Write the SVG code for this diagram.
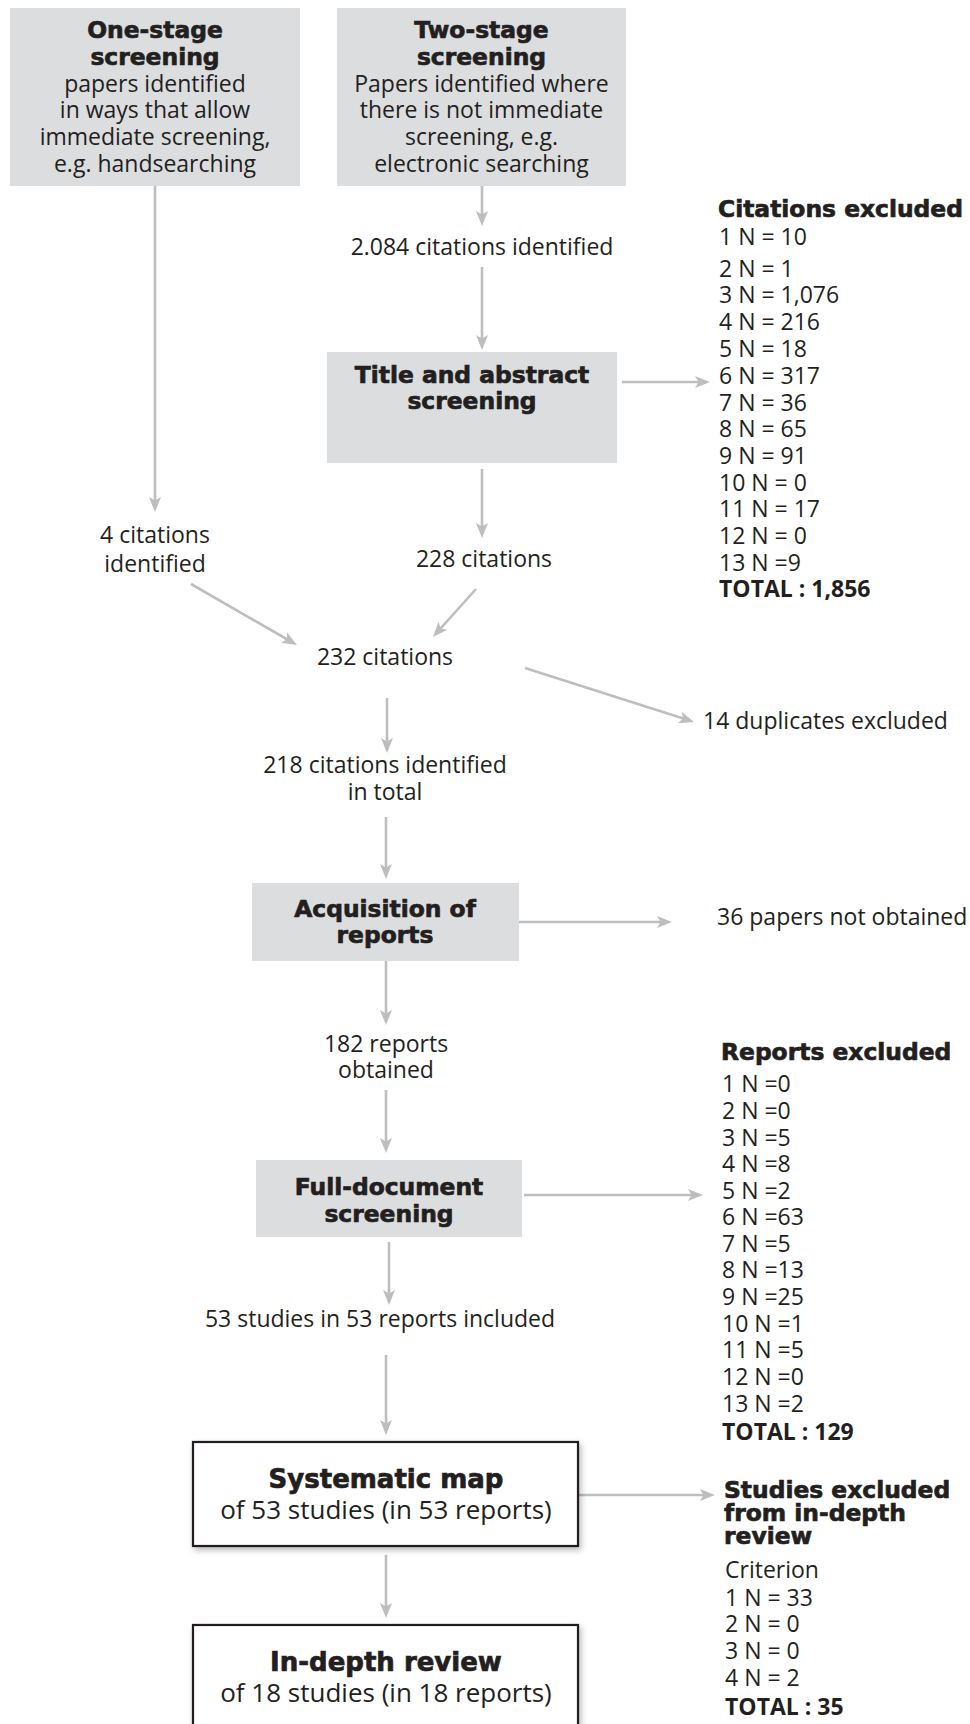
<svg xmlns="http://www.w3.org/2000/svg" width="970" height="1724" viewBox="0 0 970 1724">
<style>
.gb{fill:#dcdddf}
.wb{fill:#ffffff;stroke:#231f20;stroke-width:2.2;filter:url(#sh)}
.h{font-family:"DejaVu Sans","Liberation Sans",sans-serif;font-weight:bold;font-size:23.4px;fill:#231f20;stroke:#231f20;stroke-width:0.7px}
.h2{font-family:"DejaVu Sans","Liberation Sans",sans-serif;font-weight:bold;font-size:26px;fill:#231f20;stroke:#231f20;stroke-width:0.7px}
.t{font-family:"Open Sans","Liberation Sans",sans-serif;font-size:23px;fill:#231f20}
.t2{font-family:"Open Sans","Liberation Sans",sans-serif;font-size:26px;fill:#231f20}
.tb{font-family:"Open Sans","Liberation Sans",sans-serif;font-size:23px;font-weight:bold;fill:#231f20}
.c{text-anchor:middle}
.ln{fill:none;stroke:#bcbec0;stroke-width:2.6;marker-end:url(#ah)}
</style>
<defs>
<marker id="ah" viewBox="0 0 15 12" refX="7" refY="6" markerWidth="15" markerHeight="12" markerUnits="userSpaceOnUse" orient="auto">
<path d="M0,0 L15,6 L0,12 L3.5,6 z" fill="#bcbec0"/>
</marker>
<filter id="sh" x="-10%" y="-20%" width="125%" height="150%">
<feDropShadow dx="2" dy="3" stdDeviation="3" flood-color="#000" flood-opacity="0.28"/>
</filter>
</defs>
<rect width="970" height="1724" fill="#ffffff"/>

<g id="connectors">
<path class="ln" d="M155,186 V504"/>
<path class="ln" d="M482,186 V218"/>
<path class="ln" d="M482,267 V342"/>
<path class="ln" d="M622,382 H702"/>
<path class="ln" d="M482,469 V530"/>
<path class="ln" d="M191,584 L290.1,641"/>
<path class="ln" d="M476,589 L438.3,631"/>
<path class="ln" d="M525,668 L686.4,719.6"/>
<path class="ln" d="M387,698 V745"/>
<path class="ln" d="M386,817 V871"/>
<path class="ln" d="M519,922 H664"/>
<path class="ln" d="M386,961 V1017"/>
<path class="ln" d="M386,1090 V1145"/>
<path class="ln" d="M524,1195 H695"/>
<path class="ln" d="M389,1242 V1297"/>
<path class="ln" d="M386,1355 V1427"/>
<path class="ln" d="M578,1495 H707"/>
<path class="ln" d="M386,1555 V1610"/>
</g>

<g id="one-stage">
<rect class="gb" x="10" y="8" width="290" height="178"/>
<text class="h c" x="155" y="38">One-stage</text>
<text class="h c" x="155" y="65">screening</text>
<text class="t c" x="155" y="92">papers identified</text>
<text class="t c" x="155" y="118">in ways that allow</text>
<text class="t c" x="155" y="145">immediate screening,</text>
<text class="t c" x="155" y="172">e.g. handsearching</text>
</g>

<g id="two-stage">
<rect class="gb" x="337" y="8" width="289" height="178"/>
<text class="h c" x="481.5" y="38">Two-stage</text>
<text class="h c" x="481.5" y="65">screening</text>
<text class="t c" x="481.5" y="92">Papers identified where</text>
<text class="t c" x="481.5" y="118">there is not immediate</text>
<text class="t c" x="481.5" y="145">screening, e.g.</text>
<text class="t c" x="481.5" y="172">electronic searching</text>
</g>

<g id="citations-2084">
<text class="t c" x="482" y="255">2.084 citations identified</text>
</g>

<g id="title-abstract">
<rect class="gb" x="327" y="352" width="290" height="111"/>
<text class="h c" x="472" y="383">Title and abstract</text>
<text class="h c" x="472" y="409">screening</text>
</g>

<g id="citations-excluded">
<text class="h" x="718" y="217">Citations excluded</text>
<text class="t" x="719" y="245">1 N = 10</text>
<text class="t" x="719" y="277">2 N = 1</text>
<text class="t" x="719" y="303">3 N = 1,076</text>
<text class="t" x="719" y="330">4 N = 216</text>
<text class="t" x="719" y="357">5 N = 18</text>
<text class="t" x="719" y="384">6 N = 317</text>
<text class="t" x="719" y="411">7 N = 36</text>
<text class="t" x="719" y="437">8 N = 65</text>
<text class="t" x="719" y="464">9 N = 91</text>
<text class="t" x="719" y="491">10 N = 0</text>
<text class="t" x="719" y="517">11 N = 17</text>
<text class="t" x="719" y="544">12 N = 0</text>
<text class="t" x="719" y="571">13 N =9</text>
<text class="tb" x="719" y="597">TOTAL : 1,856</text>
</g>

<g id="citations-4">
<text class="t c" x="155" y="543">4 citations</text>
<text class="t c" x="155" y="572">identified</text>
</g>

<g id="citations-228">
<text class="t c" x="484" y="567">228 citations</text>
</g>

<g id="citations-232">
<text class="t c" x="385" y="665">232 citations</text>
</g>

<g id="duplicates">
<text class="t" x="703" y="729">14 duplicates excluded</text>
</g>

<g id="citations-218">
<text class="t c" x="385" y="773">218 citations identified</text>
<text class="t c" x="385" y="800">in total</text>
</g>

<g id="acquisition">
<rect class="gb" x="252" y="883" width="267" height="78"/>
<text class="h c" x="385" y="917">Acquisition of</text>
<text class="h c" x="385" y="943">reports</text>
</g>

<g id="not-obtained">
<text class="t" x="717" y="925">36 papers not obtained</text>
</g>

<g id="reports-182">
<text class="t c" x="386" y="1052">182 reports</text>
<text class="t c" x="386" y="1078">obtained</text>
</g>

<g id="reports-excluded">
<text class="h" x="721" y="1060">Reports excluded</text>
<text class="t" x="722" y="1092">1 N =0</text>
<text class="t" x="722" y="1119">2 N =0</text>
<text class="t" x="722" y="1146">3 N =5</text>
<text class="t" x="722" y="1172">4 N =8</text>
<text class="t" x="722" y="1199">5 N =2</text>
<text class="t" x="722" y="1225">6 N =63</text>
<text class="t" x="722" y="1252">7 N =5</text>
<text class="t" x="722" y="1278">8 N =13</text>
<text class="t" x="722" y="1305">9 N =25</text>
<text class="t" x="722" y="1332">10 N =1</text>
<text class="t" x="722" y="1358">11 N =5</text>
<text class="t" x="722" y="1385">12 N =0</text>
<text class="t" x="722" y="1412">13 N =2</text>
<text class="tb" x="722" y="1440">TOTAL : 129</text>
</g>

<g id="full-document">
<rect class="gb" x="256" y="1160" width="266" height="77"/>
<text class="h c" x="389" y="1195">Full-document</text>
<text class="h c" x="389" y="1222">screening</text>
</g>

<g id="studies-53">
<text class="t c" x="380" y="1327">53 studies in 53 reports included</text>
</g>

<g id="systematic-map">
<rect class="wb" x="193" y="1442" width="385" height="104"/>
<text class="h2 c" x="386" y="1488">Systematic map</text>
<text class="t2 c" x="386" y="1519">of 53 studies (in 53 reports)</text>
</g>

<g id="in-depth-review">
<rect class="wb" x="193" y="1625" width="385" height="115"/>
<text class="h2 c" x="386" y="1671">In-depth review</text>
<text class="t2 c" x="386" y="1702">of 18 studies (in 18 reports)</text>
</g>

<g id="studies-excluded">
<text class="h" x="724" y="1498">Studies excluded</text>
<text class="h" x="724" y="1521">from in-depth</text>
<text class="h" x="724" y="1544">review</text>
<text class="t" x="725" y="1578">Criterion</text>
<text class="t" x="725" y="1606">1 N = 33</text>
<text class="t" x="725" y="1632">2 N = 0</text>
<text class="t" x="725" y="1659">3 N = 0</text>
<text class="t" x="725" y="1686">4 N = 2</text>
<text class="tb" x="725" y="1715">TOTAL : 35</text>
</g>
</svg>
